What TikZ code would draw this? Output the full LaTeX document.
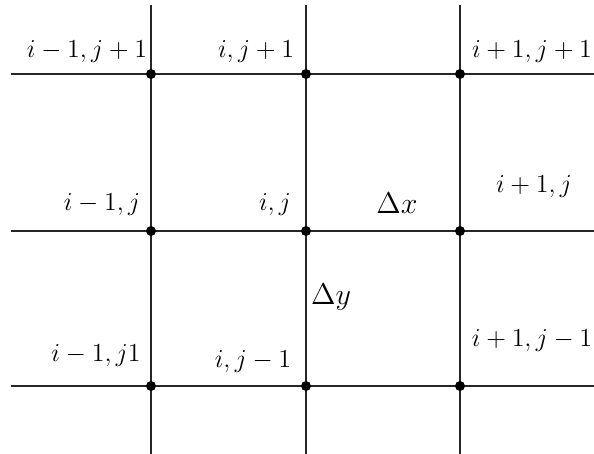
\documentclass[tikz,border=0pt]{standalone}
\begin{document}
\begin{tikzpicture}[x=0.5pt,y=-0.5pt,
  gridline/.style={line width=0.9pt,black!85},
  gdot/.style={circle,fill=black,inner sep=0pt,minimum size=5pt},
  lbl/.style={inner sep=0pt,font=\large,scale=1.08,transform shape},
  dlbl/.style={inner sep=0pt,font=\Large,scale=1.04,transform shape}]
\useasboundingbox (0,0) rectangle (594,454);
% line ends
\coordinate (h1l) at (11,74);  \coordinate (h1r) at (594,74);
\coordinate (h2l) at (11,231); \coordinate (h2r) at (594,231);
\coordinate (h3l) at (11,386); \coordinate (h3r) at (594,386);
\coordinate (v1t) at (151,5);  \coordinate (v1b) at (151,454);
\coordinate (v2t) at (306,5);  \coordinate (v2b) at (306,454);
\coordinate (v3t) at (460,5);  \coordinate (v3b) at (460,454);
\draw[gridline] (h1l) -- (h1r);
\draw[gridline] (h2l) -- (h2r);
\draw[gridline] (h3l) -- (h3r);
\draw[gridline] (v1t) -- (v1b);
\draw[gridline] (v2t) -- (v2b);
\draw[gridline] (v3t) -- (v3b);
% grid points
\node[gdot] (p11) at (151,74) {};
\node[gdot] (p21) at (306,74) {};
\node[gdot] (p31) at (460,74) {};
\node[gdot] (p12) at (151,231) {};
\node[gdot] (p22) at (306,231) {};
\node[gdot] (p32) at (460,231) {};
\node[gdot] (p13) at (151,386) {};
\node[gdot] (p23) at (306,386) {};
\node[gdot] (p33) at (460,386) {};
% labels
\node[lbl] (l11) at (87,52) {$i-1,j+1$};
\node[lbl] (l21) at (256,52) {$i,j+1$};
\node[lbl] (l31) at (532,52) {$i+1,j+1$};
\node[lbl] (l12) at (102,205) {$i-1,j$};
\node[lbl] (l22) at (275,205) {$i,j$};
\node[dlbl] (dx) at (397,203) {$\Delta x$};
\node[lbl] (l32) at (534,187) {$i+1,j$};
\node[dlbl] (dy) at (331,297) {$\Delta y$};
\node[lbl] (l13) at (96,356) {$i-1,j1$};
\node[lbl] (l23) at (253,362) {$i,j-1$};
\node[lbl] (l33) at (532,341) {$i+1,j-1$};
\end{tikzpicture}
\end{document}
